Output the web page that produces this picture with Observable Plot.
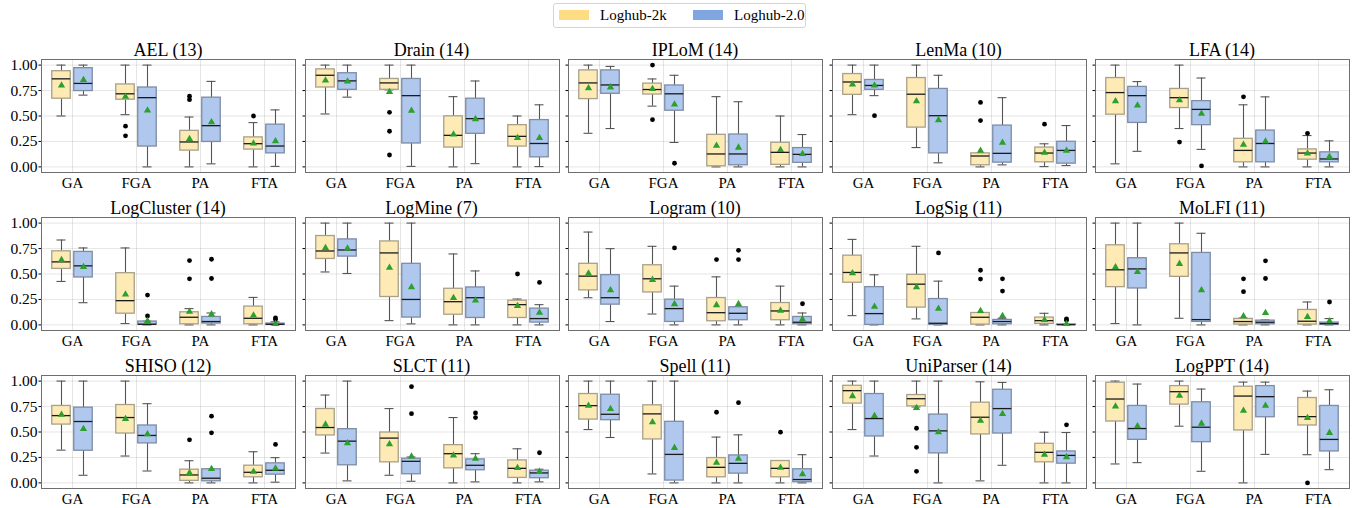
<!DOCTYPE html>
<html>
<head>
<meta charset="utf-8">
<script src="https://cdn.jsdelivr.net/npm/d3@7"></script>
<script src="https://cdn.jsdelivr.net/npm/@observablehq/plot@0.6"></script>
<style>
  body { margin: 0; background: #fff; }
  #wrap { position: relative; width: 1359px; height: 508px; font-family: "Liberation Serif", "Times New Roman", serif; color: #000; overflow: hidden; }
  .panel { position: absolute; }
  .title { position: absolute; font-size: 18px; line-height: 20px; text-align: center; white-space: nowrap; }
  #legend { position: absolute; left: 553px; top: 3px; width: 253px; height: 25px; border: 1px solid #d4d4d4; border-radius: 3px; box-sizing: border-box; }
  .sw { position: absolute; top: 6px; width: 30px; height: 10px; }
  .lt { position: absolute; top: 2px; font-size: 15px; line-height: 18px; white-space: nowrap; }
  .panel svg [aria-label^="y-axis"] text { font-size: 15.5px; }
</style>
</head>
<body>
<div id="wrap"></div>
<script>
// ---------- data ----------
const metrics = ["GA", "FGA", "PA", "FTA"];
const seriesNames = ["Loghub-2k", "Loghub-2.0"];
const parsers = ["AEL", "Drain", "IPLoM", "LenMa", "LFA", "LogCluster", "LogMine", "Logram", "LogSig", "MoLFI", "SHISO", "SLCT", "Spell", "UniParser", "LogPPT"];
const parserCounts = [13, 14, 14, 10, 14, 14, 7, 10, 11, 11, 12, 11, 11, 14, 14];
const yTicks = [0, 0.25, 0.5, 0.75, 1.0];

// rows: GA-2k, GA-2.0, FGA-2k, FGA-2.0, PA-2k, PA-2.0, FTA-2k, FTA-2.0
// each row: [whiskerLow, q1, median, q3, whiskerHigh, mean]
const AEL = [
  [0.50, 0.67, 0.865, 0.94, 1.00, 0.80], [0.705, 0.745, 0.82, 0.97, 1.00, 0.855],
  [0.513, 0.66, 0.718, 0.81, 1.00, 0.69], [0.00, 0.20, 0.68, 0.78, 1.00, 0.555],
  [0.00, 0.16, 0.245, 0.354, 0.49, 0.275], [0.03, 0.245, 0.405, 0.68, 0.84, 0.44],
  [0.00, 0.17, 0.228, 0.29, 0.435, 0.23], [0.005, 0.133, 0.205, 0.415, 0.56, 0.252]];
const Drain = [
  [0.52, 0.78, 0.90, 0.958, 1.00, 0.85], [0.685, 0.757, 0.845, 0.92, 1.00, 0.84],
  [0.757, 0.757, 0.825, 0.864, 1.00, 0.737], [0.005, 0.23, 0.70, 0.864, 1.00, 0.552],
  [0.00, 0.19, 0.31, 0.497, 0.69, 0.32], [0.032, 0.325, 0.474, 0.67, 0.844, 0.47],
  [0.00, 0.20, 0.30, 0.41, 0.50, 0.285], [0.003, 0.094, 0.23, 0.46, 0.61, 0.285]];
const IPLoM = [
  [0.33, 0.666, 0.825, 0.948, 1.00, 0.773], [0.377, 0.718, 0.805, 0.948, 0.987, 0.782],
  [0.597, 0.711, 0.76, 0.818, 0.864, 0.766], [0.24, 0.552, 0.718, 0.80, 0.90, 0.614],
  [0.00, 0.006, 0.127, 0.315, 0.69, 0.208], [0.00, 0.016, 0.127, 0.318, 0.64, 0.19],
  [0.00, 0.02, 0.143, 0.237, 0.50, 0.166], [0.00, 0.04, 0.123, 0.185, 0.318, 0.127]];
const LenMa = [
  [0.513, 0.708, 0.834, 0.912, 1.00, 0.81], [0.70, 0.757, 0.80, 0.854, 1.00, 0.80],
  [0.19, 0.386, 0.714, 0.873, 1.00, 0.646], [0.04, 0.133, 0.503, 0.766, 0.90, 0.46],
  [0.00, 0.016, 0.107, 0.133, 0.133, 0.16], [0.02, 0.042, 0.133, 0.406, 0.68, 0.237],
  [0.003, 0.045, 0.136, 0.19, 0.227, 0.14], [0.013, 0.032, 0.162, 0.247, 0.406, 0.16]];
const LFA = [
  [0.03, 0.513, 0.73, 0.873, 1.00, 0.646], [0.153, 0.432, 0.70, 0.786, 0.838, 0.604],
  [0.377, 0.578, 0.68, 0.766, 1.00, 0.656], [0.172, 0.41, 0.565, 0.646, 0.873, 0.523],
  [0.00, 0.045, 0.162, 0.276, 0.61, 0.218], [0.00, 0.045, 0.23, 0.357, 0.688, 0.25],
  [0.00, 0.071, 0.136, 0.172, 0.308, 0.133], [0.00, 0.045, 0.078, 0.143, 0.256, 0.10]];
const LogCluster = [
  [0.427, 0.55, 0.619, 0.723, 0.834, 0.638], [0.218, 0.466, 0.58, 0.717, 0.756, 0.57],
  [0.013, 0.11, 0.238, 0.508, 0.756, 0.30], [0.00, 0.003, 0.006, 0.033, 0.036, 0.04],
  [0.00, 0.006, 0.075, 0.124, 0.16, 0.13], [0.00, 0.013, 0.033, 0.078, 0.117, 0.104],
  [0.00, 0.006, 0.065, 0.18, 0.27, 0.094], [0.00, 0.00, 0.006, 0.013, 0.03, 0.01]];
const LogMine = [
  [0.52, 0.648, 0.726, 0.873, 1.00, 0.756], [0.505, 0.671, 0.736, 0.84, 1.00, 0.752],
  [0.042, 0.274, 0.707, 0.82, 1.00, 0.563], [0.01, 0.072, 0.25, 0.60, 1.00, 0.37],
  [0.00, 0.10, 0.228, 0.355, 0.697, 0.264], [0.00, 0.068, 0.267, 0.368, 0.53, 0.24],
  [0.00, 0.068, 0.199, 0.238, 0.254, 0.186], [0.00, 0.023, 0.062, 0.16, 0.199, 0.12]];
const Logram = [
  [0.267, 0.339, 0.479, 0.60, 0.912, 0.505], [0.033, 0.199, 0.267, 0.489, 0.749, 0.342],
  [0.107, 0.319, 0.453, 0.586, 0.772, 0.443], [0.00, 0.029, 0.16, 0.248, 0.381, 0.205],
  [0.00, 0.036, 0.12, 0.264, 0.472, 0.195], [0.00, 0.046, 0.114, 0.173, 0.179, 0.205],
  [0.00, 0.046, 0.137, 0.215, 0.381, 0.14], [0.00, 0.006, 0.026, 0.078, 0.117, 0.055]];
const LogSig = [
  [0.091, 0.414, 0.515, 0.68, 0.84, 0.508], [0.00, 0.00, 0.111, 0.371, 0.492, 0.179],
  [0.059, 0.17, 0.40, 0.492, 0.772, 0.371], [0.00, 0.00, 0.016, 0.254, 0.43, 0.16],
  [0.00, 0.003, 0.075, 0.117, 0.12, 0.137], [0.00, 0.006, 0.033, 0.049, 0.065, 0.088],
  [0.00, 0.01, 0.042, 0.072, 0.114, 0.049], [0.00, 0.00, 0.002, 0.005, 0.006, 0.01]];
const MoLFI = [
  [0.013, 0.371, 0.541, 0.782, 1.00, 0.567], [0.00, 0.358, 0.55, 0.655, 1.00, 0.52],
  [0.065, 0.472, 0.707, 0.792, 1.00, 0.60], [0.00, 0.029, 0.052, 0.707, 0.90, 0.342],
  [0.00, 0.003, 0.033, 0.059, 0.068, 0.085], [0.00, 0.006, 0.026, 0.042, 0.049, 0.117],
  [0.00, 0.003, 0.036, 0.147, 0.225, 0.078], [0.00, 0.00, 0.013, 0.023, 0.062, 0.036]];
const SHISO = [
  [0.322, 0.573, 0.661, 0.756, 1.00, 0.671], [0.075, 0.316, 0.603, 0.739, 1.00, 0.531],
  [0.264, 0.485, 0.642, 0.765, 1.00, 0.629], [0.117, 0.388, 0.466, 0.564, 0.778, 0.479],
  [0.00, 0.02, 0.078, 0.13, 0.218, 0.098], [0.00, 0.016, 0.046, 0.134, 0.137, 0.137],
  [0.00, 0.055, 0.104, 0.169, 0.306, 0.11], [0.007, 0.081, 0.124, 0.192, 0.248, 0.143]];
const SLCT = [
  [0.293, 0.466, 0.544, 0.726, 0.863, 0.573], [0.02, 0.173, 0.41, 0.528, 1.00, 0.39],
  [0.075, 0.202, 0.44, 0.495, 0.73, 0.381], [0.016, 0.085, 0.212, 0.238, 0.254, 0.26],
  [0.00, 0.143, 0.287, 0.371, 0.642, 0.27], [0.01, 0.124, 0.173, 0.231, 0.287, 0.238],
  [0.00, 0.049, 0.143, 0.221, 0.335, 0.147], [0.01, 0.046, 0.098, 0.12, 0.134, 0.11]];
const Spell = [
  [0.524, 0.622, 0.759, 0.873, 1.00, 0.759], [0.446, 0.616, 0.674, 0.866, 1.00, 0.726],
  [0.088, 0.427, 0.678, 0.762, 1.00, 0.596], [0.00, 0.023, 0.28, 0.60, 1.00, 0.345],
  [0.00, 0.055, 0.153, 0.244, 0.45, 0.199], [0.00, 0.091, 0.192, 0.27, 0.472, 0.238],
  [0.00, 0.055, 0.143, 0.215, 0.218, 0.15], [0.00, 0.007, 0.033, 0.134, 0.277, 0.085]];
const UniParser = [
  [0.524, 0.779, 0.906, 0.954, 1.00, 0.853], [0.264, 0.456, 0.632, 0.873, 1.00, 0.658],
  [0.746, 0.752, 0.827, 0.863, 1.00, 0.736], [0.00, 0.29, 0.511, 0.671, 1.00, 0.498],
  [0.02, 0.476, 0.645, 0.788, 0.993, 0.612], [0.173, 0.485, 0.73, 0.915, 0.987, 0.678],
  [0.00, 0.202, 0.30, 0.384, 0.498, 0.277], [0.00, 0.189, 0.27, 0.309, 0.495, 0.254]];
const LogPPT = [
  [0.186, 0.603, 0.824, 0.984, 1.00, 0.752], [0.199, 0.423, 0.534, 0.756, 0.971, 0.557],
  [0.557, 0.769, 0.896, 0.951, 1.00, 0.857], [0.114, 0.40, 0.547, 0.792, 0.922, 0.583],
  [0.00, 0.515, 0.853, 0.945, 0.99, 0.71], [0.28, 0.645, 0.847, 0.951, 0.99, 0.759],
  [0.277, 0.564, 0.651, 0.834, 0.902, 0.638], [0.13, 0.309, 0.427, 0.756, 0.915, 0.492]];

// outliers: [metric, seriesIndex (0 = 2k, 1 = 2.0), value]
const AEL_out = [["FGA", 0, 0.40], ["FGA", 0, 0.305], ["PA", 0, 0.695], ["PA", 0, 0.66], ["FTA", 0, 0.50]];
const Drain_out = [["FGA", 0, 0.536], ["FGA", 0, 0.35], ["FGA", 0, 0.117]];
const IPLoM_out = [["FGA", 0, 1.00], ["FGA", 0, 0.464], ["FGA", 1, 0.036]];
const LenMa_out = [["GA", 1, 0.503], ["PA", 0, 0.633], ["PA", 0, 0.455], ["FTA", 0, 0.42]];
const LFA_out = [["FGA", 0, 0.244], ["FGA", 1, 0.01], ["PA", 0, 0.688], ["FTA", 0, 0.33]];
const LogCluster_out = [["FGA", 1, 0.293], ["FGA", 1, 0.088], ["PA", 0, 0.632], ["PA", 0, 0.453], ["PA", 1, 0.645], ["PA", 1, 0.456], ["FTA", 1, 0.068], ["FTA", 1, 0.052]];
const LogMine_out = [["FTA", 0, 0.50], ["FTA", 1, 0.417]];
const Logram_out = [["FGA", 1, 0.756], ["PA", 0, 0.642], ["PA", 1, 0.733], ["PA", 1, 0.642], ["FTA", 1, 0.208]];
const LogSig_out = [["FGA", 1, 0.707], ["PA", 0, 0.537], ["PA", 0, 0.45], ["PA", 1, 0.453], ["PA", 1, 0.332], ["FTA", 1, 0.059], ["FTA", 1, 0.046]];
const MoLFI_out = [["PA", 0, 0.453], ["PA", 0, 0.326], ["PA", 1, 0.629], ["PA", 1, 0.456], ["FTA", 1, 0.225]];
const SHISO_out = [["PA", 0, 0.423], ["PA", 1, 0.655], ["PA", 1, 0.492], ["FTA", 1, 0.378]];
const SLCT_out = [["FGA", 1, 0.945], ["FGA", 1, 0.68], ["PA", 1, 0.687], ["PA", 1, 0.642], ["FTA", 1, 0.296]];
const Spell_out = [["PA", 0, 0.694], ["PA", 1, 0.788], ["FTA", 0, 0.498]];
const UniParser_out = [["FGA", 0, 0.537], ["FGA", 0, 0.349], ["FGA", 0, 0.114], ["FTA", 1, 0.57]];
const LogPPT_out = [["FTA", 0, 0.00]];

const panelStats = [AEL, Drain, IPLoM, LenMa, LFA, LogCluster, LogMine, Logram, LogSig, MoLFI, SHISO, SLCT, Spell, UniParser, LogPPT];
const panelOutliers = [AEL_out, Drain_out, IPLoM_out, LenMa_out, LFA_out, LogCluster_out, LogMine_out, Logram_out, LogSig_out, MoLFI_out, SHISO_out, SLCT_out, Spell_out, UniParser_out, LogPPT_out];

// ---------- layout / style ----------
const legendColors = ["#FDDC84", "#7FA6E0"];
const boxFills = ["#FDEAB5", "#B0C8EE"];
const boxStrokes = ["#A8A08A", "#7E8CA6"];
const colLefts = [41, 304.5, 568, 831.5, 1095];
const rowTops = [59, 217, 374.5];
const FW = 254, FH = 113;
const offsets = [-11, 11];

const wrap = document.getElementById("wrap");

// legend
const legend = document.createElement("div");
legend.id = "legend";
legend.innerHTML =
  `<div class="sw" style="left:5px;background:${legendColors[0]}"></div><div class="lt" style="left:46px">${seriesNames[0]}</div>` +
  `<div class="sw" style="left:139px;background:${legendColors[1]}"></div><div class="lt" style="left:180px">${seriesNames[1]}</div>`;
wrap.appendChild(legend);

parsers.forEach((name, p) => {
  const col = p % 5, row = Math.floor(p / 5);
  const rows = panelStats[p].map((v, i) => ({
    metric: metrics[i >> 1], s: i % 2,
    lo: v[0], q1: v[1], med: v[2], q3: v[3], hi: v[4], mean: v[5]
  }));
  const outs = panelOutliers[p].map(([m, s, v]) => ({metric: m, s, v}));
  const ml = col === 0 ? 41 : 5, mr = 2, mt = 1, mb = 24;

  const marks = [];
  [0, 1].forEach(s => {
    const d = rows.filter(r => r.s === s);
    const dx = offsets[s];
    marks.push(
      Plot.ruleX(d, {x: "metric", y1: "lo", y2: "q1", dx, stroke: "#555", strokeWidth: 1.1}),
      Plot.ruleX(d, {x: "metric", y1: "q3", y2: "hi", dx, stroke: "#555", strokeWidth: 1.1}),
      Plot.tickY(d, {x: "metric", y: "lo", dx, insetLeft: 11.5, insetRight: 11.5, stroke: "#555", strokeWidth: 1.1}),
      Plot.tickY(d, {x: "metric", y: "hi", dx, insetLeft: 11.5, insetRight: 11.5, stroke: "#555", strokeWidth: 1.1}),
      Plot.barY(d, {x: "metric", y1: "q1", y2: "q3", dx, insetLeft: 6.75, insetRight: 6.75, fill: boxFills[s], stroke: boxStrokes[s], strokeWidth: 1.3}),
      Plot.tickY(d, {x: "metric", y: "med", dx, insetLeft: 6.75, insetRight: 6.75, stroke: "#1a1a1a", strokeWidth: 1.3}),
      Plot.dot(outs.filter(o => o.s === s), {x: "metric", y: "v", dx, r: 2.4, fill: "#000", stroke: "none"}),
      Plot.dot(d, {x: "metric", y: "mean", dx, symbol: "triangle", r: 2.7, fill: "#2CA02C", stroke: "none"})
    );
  });
  marks.push(Plot.frame({stroke: "#6f6f6f", strokeWidth: 1}));

  const chart = Plot.plot({
    width: ml + FW + mr,
    height: mt + FH + mb,
    marginLeft: ml, marginRight: mr, marginTop: mt, marginBottom: mb,
    style: {fontFamily: "'Liberation Serif', 'Times New Roman', serif", fontSize: "15px", color: "#000", background: "transparent", overflow: "visible"},
    x: {type: "band", domain: metrics, paddingInner: 0.5, paddingOuter: 0.204, grid: true, label: null, tickSize: 0, tickPadding: 4.5},
    y: {domain: [-0.055, 1.055], ticks: yTicks, grid: true, label: null, tickSize: 2.5, tickPadding: 1.5,
        tickFormat: col === 0 ? d3.format(".2f") : () => ""},
    marks
  });

  const holder = document.createElement("div");
  holder.className = "panel";
  holder.style.left = (colLefts[col] - ml) + "px";
  holder.style.top = (rowTops[row] - mt) + "px";
  holder.appendChild(chart);
  wrap.appendChild(holder);

  const t = document.createElement("div");
  t.className = "title";
  t.style.left = colLefts[col] + "px";
  t.style.width = FW + "px";
  t.style.top = (rowTops[row] - 19) + "px";
  t.textContent = `${name} (${parserCounts[p]})`;
  wrap.appendChild(t);
});
</script>
</body>
</html>
